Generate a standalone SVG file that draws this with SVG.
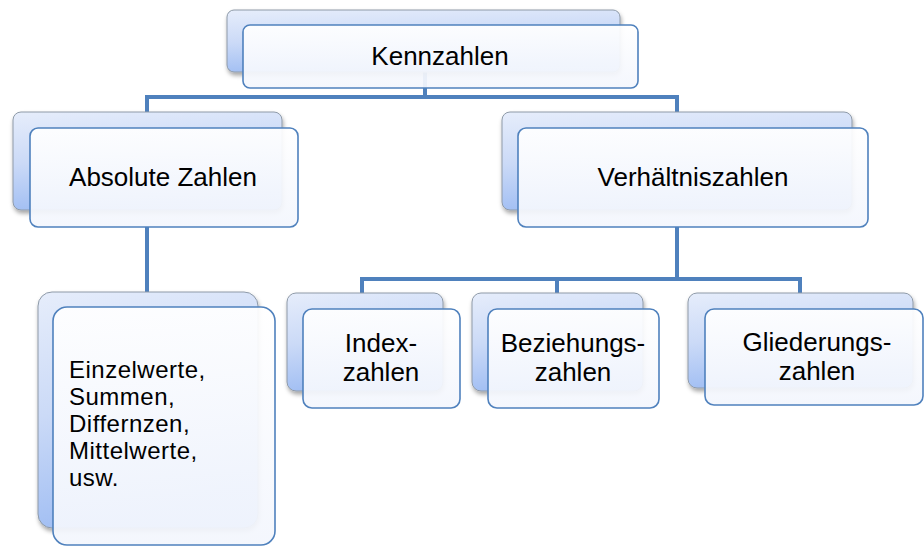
<svg xmlns="http://www.w3.org/2000/svg" width="924" height="547" viewBox="0 0 924 547">
<defs>
<linearGradient id="gb" x1="0" y1="0" x2="0.25" y2="1">
<stop offset="0" stop-color="#e6edfb"/>
<stop offset="0.5" stop-color="#cbdaf7"/>
<stop offset="1" stop-color="#9fbdf3"/>
</linearGradient>
<linearGradient id="gf" x1="0" y1="0" x2="0" y2="1">
<stop offset="0" stop-color="#ffffff"/>
<stop offset="1" stop-color="#f3f6fd"/>
</linearGradient>
<filter id="sh" x="-10%" y="-10%" width="130%" height="130%">
<feDropShadow dx="1" dy="3" stdDeviation="2" flood-color="#000" flood-opacity="0.35"/>
</filter>
</defs>
<style>
.back{fill:url(#gb);stroke:#8e9aa8;stroke-width:1;filter:url(#sh)}
.front{fill:url(#gf);fill-opacity:0.93;stroke:#4f81bd;stroke-width:1.6}
.conn{fill:none;stroke:#4f81bd;stroke-width:4;stroke-linejoin:miter}
text{font-family:"Liberation Sans",Arial,sans-serif;font-size:26px;fill:#000}
.c{text-anchor:middle}
.s{font-size:24px;letter-spacing:0.5px}
</style>
<rect width="924" height="547" fill="#fff"/>
<g id="connectors">
<path class="conn" d="M425 72V97M147 112V97H677V112"/>
<path class="conn" d="M147 227V292"/>
<path class="conn" d="M677 227V279M362 293V279H800V293M557 279V293"/>
</g>
<g id="kennzahlen">
<rect class="back" x="227" y="10" width="393" height="62" rx="7"/>
<rect class="front" x="243" y="25" width="395" height="63" rx="7"/>
<text class="c" x="440" y="65">Kennzahlen</text>
</g>
<g id="absolute">
<rect class="back" x="13" y="112" width="269" height="98" rx="8"/>
<rect class="front" x="30" y="128" width="268" height="99" rx="8"/>
<text class="c" x="163" y="186">Absolute Zahlen</text>
</g>
<g id="verhaeltnis">
<rect class="back" x="502" y="112" width="350" height="98" rx="8"/>
<rect class="front" x="518" y="128" width="350" height="99" rx="8"/>
<text class="c" x="693" y="186">Verhältniszahlen</text>
</g>
<g id="einzelwerte">
<rect class="back" x="38" y="292" width="220" height="236" rx="14"/>
<rect class="front" x="53" y="307" width="222" height="238" rx="14"/>
<text class="s" x="69" y="378">Einzelwerte,</text>
<text class="s" x="69" y="405">Summen,</text>
<text class="s" x="69" y="432">Differnzen,</text>
<text class="s" x="69" y="459">Mittelwerte,</text>
<text class="s" x="69" y="486">usw.</text>
</g>
<g id="index">
<rect class="back" x="287" y="293" width="156" height="98" rx="9"/>
<rect class="front" x="303" y="309" width="157" height="99" rx="9"/>
<text class="c" x="381" y="352">Index-</text>
<text class="c" x="381" y="381">zahlen</text>
</g>
<g id="beziehung">
<rect class="back" x="472" y="293" width="171" height="98" rx="9"/>
<rect class="front" x="488" y="309" width="171" height="99" rx="9"/>
<text class="c" x="573" y="352">Beziehungs-</text>
<text class="c" x="573" y="381">zahlen</text>
</g>
<g id="gliederung">
<rect class="back" x="688" y="293" width="225" height="95" rx="9"/>
<rect class="front" x="705" y="309" width="218" height="96" rx="9"/>
<text class="c" x="817" y="351">Gliederungs-</text>
<text class="c" x="817" y="380">zahlen</text>
</g>
</svg>
